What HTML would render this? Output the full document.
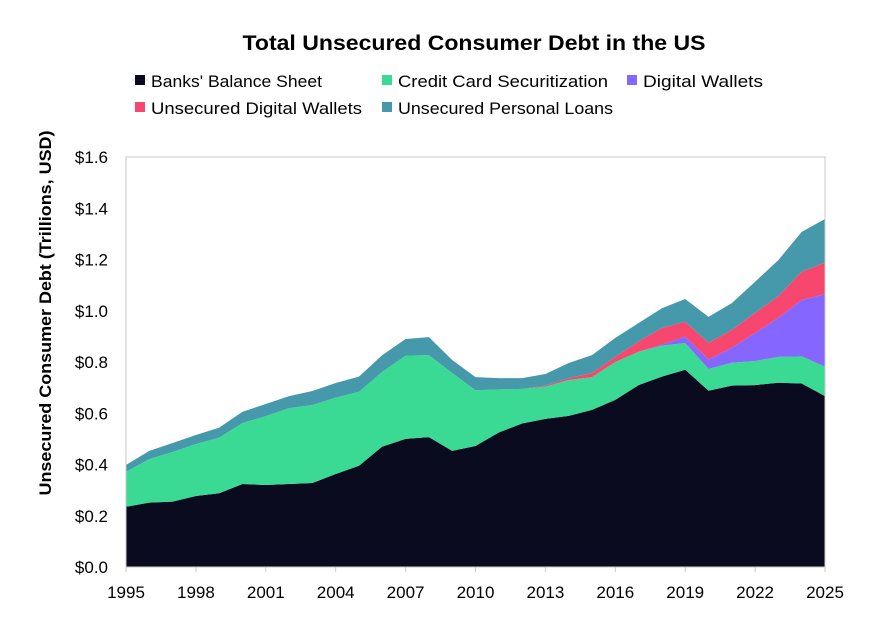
<!DOCTYPE html>
<html><head><meta charset="utf-8"><style>
body{margin:0;background:#fff;}
svg{display:block;font-family:"Liberation Sans","DejaVu Sans",sans-serif;}
</style></head><body>
<svg id="chart" width="870" height="623" viewBox="0 0 870 623">
<text x="474" y="50" text-anchor="middle" font-size="21" font-weight="bold" fill="#000" textLength="463" lengthAdjust="spacingAndGlyphs">Total Unsecured Consumer Debt in the US</text>
<g id="legend"></g>
<text transform="translate(51,313) rotate(-90)" text-anchor="middle" font-size="17" font-weight="bold" fill="#000" textLength="365" lengthAdjust="spacingAndGlyphs">Unsecured Consumer Debt (Trillions, USD)</text>
<g id="areas"></g>
<rect x="126" y="157" width="699" height="410" fill="none" stroke="#c8c8c8" stroke-width="1"/>
<g id="yaxis"></g>
<g id="xaxis"></g>
</svg>
<script>
const years = [1995,1996,1997,1998,1999,2000,2001,2002,2003,2004,2005,2006,2007,2008,2009,2010,2011,2012,2013,2014,2015,2016,2017,2018,2019,2020,2021,2022,2023,2024,2025];
const banks = [.235,.251,.255,.277,.288,.324,.32,.324,.328,.363,.395,.47,.50,.507,.453,.472,.525,.56,.578,.59,.613,.652,.71,.743,.77,.688,.708,.71,.719,.716,.667];
const creditCard = [.137,.17,.194,.203,.217,.238,.269,.296,.304,.298,.289,.292,.325,.32,.304,.218,.168,.135,.126,.14,.128,.148,.13,.121,.104,.085,.089,.094,.101,.106,.115];
const digitalWallets = [0,0,0,0,0,0,0,0,0,0,0,0,0,0,0,0,0,0,0,0,0,0,0,.004,.025,.037,.058,.109,.152,.22,.283];
const unsecuredDigital = [0,0,0,0,0,0,0,0,0,0,0,0,0,0,0,0,0,0,.004,.007,.016,.02,.04,.065,.058,.065,.07,.079,.085,.11,.123];
const personalLoans = [.026,.032,.035,.035,.039,.044,.047,.047,.055,.057,.059,.065,.065,.07,.051,.051,.044,.042,.045,.059,.07,.074,.072,.077,.089,.101,.105,.121,.141,.156,.17];
const yTicks = [0,0.2,0.4,0.6,0.8,1.0,1.2,1.4,1.6];
const yTickLabels = ["$0.0","$0.2","$0.4","$0.6","$0.8","$1.0","$1.2","$1.4","$1.6"];
const xTicks = [1995,1998,2001,2004,2007,2010,2013,2016,2019,2022,2025];
const seriesNames = ["Banks' Balance Sheet","Credit Card Securitization","Digital Wallets","Unsecured Digital Wallets","Unsecured Personal Loans"];

const NS="http://www.w3.org/2000/svg";
const colors=["#0b0b20","#3ad994","#8566ff","#f7476f","#4599ab"];
const keys=["banks","credit-card-securitization","digital-wallets","unsecured-digital-wallets","unsecured-personal-loans"];
const legendLens=[171,210,120,211,215];
const X0=126,X1=825,Y0=567,Y1=157;
const xs=y=>X0+(y-1995)/(2025-1995)*(X1-X0);
const ys=v=>Y0-v/1.6*(Y0-Y1);
const series=[banks,creditCard,digitalWallets,unsecuredDigital,personalLoans];
const areas=document.getElementById('areas');
let base=years.map(()=>0);
series.forEach((s,k)=>{
  const top=base.map((b,i)=>b+s[i]);
  let d="M"+years.map((y,i)=>xs(y)+","+ys(top[i])).join("L");
  for(let i=years.length-1;i>=0;i--) d+="L"+xs(years[i])+","+ys(base[i]);
  d+="Z";
  const p=document.createElementNS(NS,'path');
  p.setAttribute('d',d);p.setAttribute('fill',colors[k]);
  
  
  areas.appendChild(p);
  base=top;
});
const ya=document.getElementById('yaxis');
yTicks.forEach((v,i)=>{
  const t=document.createElementNS(NS,'text');
  t.setAttribute('x',108);t.setAttribute('y',ys(v)+6);t.setAttribute('text-anchor','end');
  t.setAttribute('font-size','17');t.setAttribute('fill','#000');
  t.textContent=yTickLabels[i];
  
  
  ya.appendChild(t);
});
const xa=document.getElementById('xaxis');
xTicks.forEach(y=>{
  const l=document.createElementNS(NS,'line');
  l.setAttribute('x1',xs(y));l.setAttribute('x2',xs(y));l.setAttribute('y1',567);l.setAttribute('y2',572);
  l.setAttribute('stroke','#c8c8c8');
  
  
  xa.appendChild(l);
  const t=document.createElementNS(NS,'text');
  t.setAttribute('x',xs(y));t.setAttribute('y',598);t.setAttribute('text-anchor','middle');
  t.setAttribute('font-size','17');t.setAttribute('fill','#000');
  t.textContent=y;
  
  
  xa.appendChild(t);
});
const lg=document.getElementById('legend');
const lpos=[[135,75],[382,75],[627,75],[135,102],[382,102]];
seriesNames.forEach((n,k)=>{
  const g=document.createElementNS(NS,'g');
  
  
  const r=document.createElementNS(NS,'rect');
  r.setAttribute('x',lpos[k][0]);r.setAttribute('y',lpos[k][1]);r.setAttribute('width',10);r.setAttribute('height',10);
  r.setAttribute('fill',colors[k]);
  g.appendChild(r);
  const t=document.createElementNS(NS,'text');
  t.setAttribute('x',lpos[k][0]+16);t.setAttribute('y',lpos[k][1]+12);
  t.setAttribute('font-size','17');t.setAttribute('fill','#000');
  t.setAttribute('textLength',legendLens[k]);t.setAttribute('lengthAdjust','spacingAndGlyphs');
  t.textContent=n;
  g.appendChild(t);
  lg.appendChild(g);
});
</script>
</body></html>
